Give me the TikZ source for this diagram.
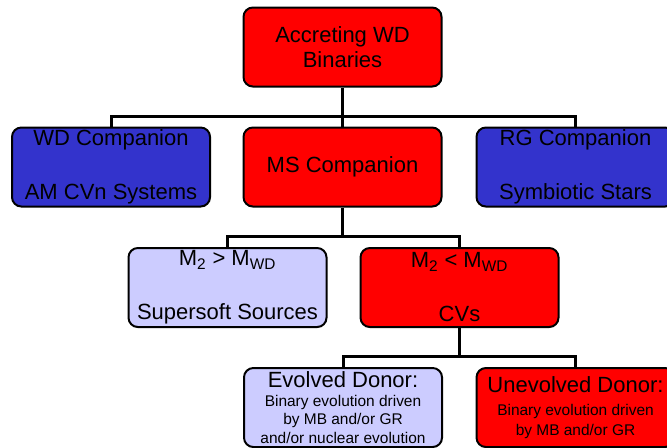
\documentclass[tikz,border=0pt]{standalone}
\usepackage{fontspec}
\setmainfont{Liberation Sans}
\usetikzlibrary{backgrounds}
\definecolor{boxred}{HTML}{FF0000}
\definecolor{boxblue}{HTML}{3333CC}
\definecolor{boxlilac}{HTML}{CCCCFF}
\newcommand\bigtxt{\fontsize{16.5pt}{18.75pt}\selectfont}
\newcommand\smalltxt{\fontsize{11.6pt}{14pt}\selectfont}
\tikzset{
  box/.style={draw=black, line width=1.5pt, rounded corners=7pt,
    minimum width=148.5pt, minimum height=59.25pt, inner sep=0pt,
    align=center, font=\bigtxt},
  redbox/.style={box, fill=boxred},
  bluebox/.style={box, fill=boxblue},
  lilacbox/.style={box, fill=boxlilac},
  link/.style={line width=2.25pt}
}

\begin{document}
\begin{tikzpicture}[x=0.75pt, y=-0.75pt]
                \clip (0,0) rectangle (667,447);

                % boxes
                \node[redbox] (acc) at (342.5,47) {Accreting WD\\Binaries};

                \node[bluebox] (wd) at (111,167) {WD Companion\\[21.75pt]AM CVn Systems};
                \node[redbox] (ms) at (342.5,167) {MS Companion};
                \node[bluebox] (rg) at (575.5,167) {RG Companion\\[21.75pt]Symbiotic Stars};

                \node[lilacbox] (ss) at (227.5,287.5) {M\textsubscript{2} > M\textsubscript{WD}\\[21.75pt]Supersoft Sources};
                \node[redbox] (cv) at (459.5,287.5) {M\textsubscript{2} < M\textsubscript{WD}\\[21.75pt]CVs};

                \node[lilacbox] (ev) at (343,407.5) {Evolved Donor:\\[-4.5pt]\smalltxt Binary evolution driven\\[-4.75pt]\smalltxt by MB and/or GR\\[-4.75pt]\smalltxt and/or nuclear evolution};
                \node[redbox] (un) at (575.5,407.5) {Unevolved Donor:\\[-1.5pt]\smalltxt Binary evolution driven\\[-3.75pt]\smalltxt by MB and/or GR};

                % joints
                \coordinate (j1) at (342.5,116);
                \coordinate (j2) at (342.5,236);
                \coordinate (j3) at (459.5,356);

                \begin{scope}[on background layer]
                    \fill[white] (0,0) rectangle (667,447);
                    \draw[link] (acc.south) -- (ms.north);
                    \draw[link] (wd.north) |- (j1) -| (rg.north);
                    \draw[link] (ms.south) -- (j2);
                    \draw[link] (ss.north) |- (j2) -| (cv.north);
                    \draw[link] (cv.south) -- (j3);
                    \draw[link] (ev.north) |- (j3) -| (un.north);
                \end{scope}
\end{tikzpicture}
\end{document}
